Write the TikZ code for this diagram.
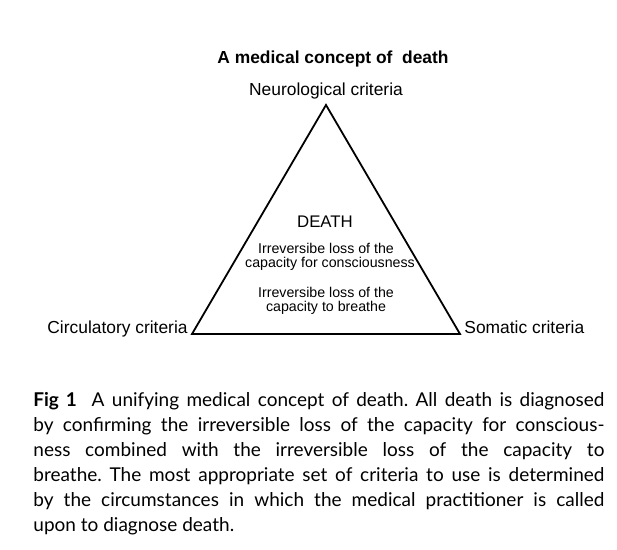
\documentclass[tikz,border=0pt]{standalone}
\usepackage{fontspec}
\setmainfont{Liberation Sans}
\newfontfamily\capfont{Lato}
\tikzset{
  crit/.style={inner sep=0pt,font=\fontsize{8.7}{10}\selectfont},
  inner/.style={inner sep=0pt,font=\fontsize{7.1}{8}\selectfont},
  side/.style={line width=0.9pt,line join=miter}
}
\begin{document}
\frenchspacing
\begin{tikzpicture}[x=0.5pt,y=-0.5pt]
\useasboundingbox (0,0) rectangle (617,550);
% triangle corners
\coordinate (apex) at (326,105);
\coordinate (lft) at (192,334);
\coordinate (rgt) at (460,334);
\draw[side] (apex) -- (lft) -- (rgt) -- cycle;
% labels
\node[crit,anchor=base,font=\fontsize{8.7}{10}\selectfont\bfseries] (title) at (333,64) {A medical concept of\ \ death};
\node[crit,anchor=base] (neuro) at (326,96) {Neurological criteria};
\node[crit,anchor=base east] (circ) at (188,334) {Circulatory criteria};
\node[crit,anchor=base west] (soma) at (464,334) {Somatic criteria};
% inside the triangle
\node[crit,anchor=base,font=\fontsize{8.4}{10}\selectfont] (death) at (325,228) {DEATH};
\node[inner,anchor=base] (cons1) at (326,254) {Irreversibe loss of the};
\node[inner,anchor=base] (cons2) at (330,268) {capacity for consciousness};
\node[inner,anchor=base] (brea1) at (326,298) {Irreversibe loss of the};
\node[inner,anchor=base] (brea2) at (326,312) {capacity to breathe};
% caption
\node[anchor=base west,inner sep=0pt,text width=285.5pt,align=justify,
  font=\capfont\fontsize{9.5}{12.5}\selectfont] (caption) at (33,407)
  {\textbf{Fig 1}\ \ A unifying medical concept of death. All death is diagnosed\linebreak
   by confirming the irreversible loss of the capacity for conscious-\linebreak
   ness combined with the irreversible loss of the capacity to\linebreak
   breathe. The most appropriate set of criteria to use is determined\linebreak
   by the circumstances in which the medical practitioner is called\linebreak
   upon to diagnose death.};
\end{tikzpicture}
\end{document}
